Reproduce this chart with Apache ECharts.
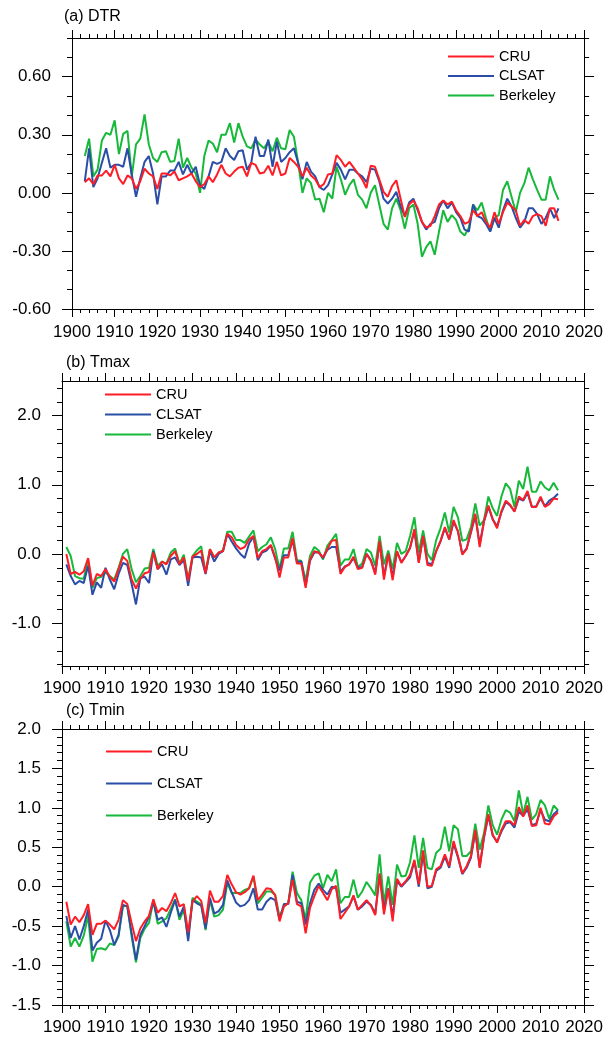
<!DOCTYPE html>
<html>
<head>
<meta charset="utf-8">
<title>DTR / Tmax / Tmin</title>
<script src="https://cdn.jsdelivr.net/npm/echarts@6/dist/echarts.min.js"></script>
<style>
  html, body { margin: 0; padding: 0; background: #fff; }
  #renderChart { width: 606px; height: 1044px; }
</style>
</head>
<body>
<div id="renderChart"></div>
<script>
// years
const dtrStart = 1903;
const tStart = 1901;

// (a) DTR, 1903-2014
const dtrCRU = [
  0.055, 0.075, 0.045, 0.09, 0.09, 0.115, 0.085, 0.145, 0.075, 0.045,
  0.09, 0.075, 0.02, 0.06, 0.125, 0.10, 0.085, 0.02, 0.10, 0.10,
  0.09, 0.11, 0.065, 0.075, 0.085, 0.10, 0.06, 0.03, 0.045, 0.085,
  0.055, 0.095, 0.145, 0.10, 0.085, 0.11, 0.13, 0.135, 0.085, 0.155,
  0.145, 0.10, 0.105, 0.14, 0.09, 0.16, 0.09, 0.10, 0.18, 0.16,
  0.135, 0.085, 0.13, 0.09, 0.07, 0.03, 0.045, 0.095, 0.10, 0.195,
  0.17, 0.135, 0.16, 0.13, 0.10, 0.07, 0.025, 0.14, 0.135, 0.07,
  0.005, -0.02, 0.035, 0.065, -0.03, -0.125, -0.06, -0.04, -0.08, -0.15,
  -0.18, -0.17, -0.12, -0.06, -0.04, -0.06, -0.045, -0.09, -0.12, -0.16,
  -0.15, -0.09, -0.12, -0.10, -0.15, -0.18, -0.10, -0.16, -0.10, -0.05,
  -0.07, -0.09, -0.17, -0.14, -0.16, -0.12, -0.11, -0.12, -0.17, -0.08,
  -0.08, -0.145
];
const dtrCLSAT = [
  0.06, 0.23, 0.03, 0.075, 0.155, 0.23, 0.13, 0.145, 0.145, 0.135,
  0.23, 0.095, -0.02, 0.075, 0.16, 0.19, 0.10, -0.06, 0.085, 0.085,
  0.115, 0.115, 0.16, 0.095, 0.145, 0.10, 0.135, 0.04, 0.02, 0.085,
  0.16, 0.15, 0.16, 0.23, 0.19, 0.17, 0.215, 0.22, 0.12, 0.155,
  0.29, 0.19, 0.19, 0.275, 0.135, 0.265, 0.16, 0.18, 0.21, 0.23,
  0.155, 0.07, 0.16, 0.11, 0.085, 0.03, 0.015, 0.04, 0.095, 0.155,
  0.12, 0.07, 0.12, 0.12, 0.10, 0.085, 0.055, 0.125, 0.12, 0.06,
  -0.03, -0.055, -0.03, 0.005, -0.07, -0.12, -0.05, -0.03, -0.09, -0.15,
  -0.19, -0.16, -0.15, -0.08, -0.04, -0.08, -0.05, -0.10, -0.13, -0.19,
  -0.20, -0.06, -0.12, -0.13, -0.16, -0.20, -0.13, -0.18, -0.09, -0.03,
  -0.07, -0.13, -0.18, -0.15, -0.08, -0.08, -0.11, -0.16, -0.13, -0.08,
  -0.13, -0.08
];
const dtrBerkeley = [
  0.19, 0.28, 0.085, 0.12, 0.27, 0.31, 0.30, 0.375, 0.20, 0.305,
  0.32, 0.085, 0.25, 0.28, 0.405, 0.25, 0.18, 0.16, 0.21, 0.215,
  0.16, 0.165, 0.28, 0.13, 0.18, 0.13, 0.10, 0.0, 0.19, 0.27,
  0.255, 0.21, 0.30, 0.30, 0.36, 0.26, 0.36, 0.29, 0.24, 0.23,
  0.275, 0.25, 0.23, 0.265, 0.215, 0.285, 0.23, 0.225, 0.325, 0.29,
  0.155, 0.0, 0.075, 0.05, -0.035, -0.03, -0.10, 0.0, -0.03, 0.135,
  0.07, -0.01, 0.04, 0.07, -0.01, -0.035, -0.08, 0.0, 0.04, -0.06,
  -0.16, -0.19, -0.08, -0.03, -0.09, -0.185, -0.08, -0.06, -0.16, -0.33,
  -0.28, -0.25, -0.32, -0.20, -0.09, -0.15, -0.115, -0.14, -0.20, -0.22,
  -0.18, -0.06, -0.09, -0.05, -0.13, -0.20, -0.13, -0.115, 0.015, 0.06,
  -0.02, -0.10, 0.0, 0.05, 0.13, 0.07, 0.015, -0.035, -0.035, 0.085,
  0.015, -0.035
];

// (b) Tmax, 1901-2014
const tmaxCRU = [
  0.0, -0.29, -0.26, -0.30, -0.25, -0.06, -0.46, -0.29, -0.32, -0.22,
  -0.33, -0.40, -0.22, -0.04, -0.10, -0.37, -0.50, -0.36, -0.28, -0.26,
  0.02, -0.22, -0.11, -0.15, -0.03, 0.04, -0.15, -0.05, -0.39, -0.04,
  0.0, 0.05, -0.28, 0.07, -0.05, 0.02, 0.04, 0.29, 0.24, 0.13,
  0.07, 0.10, 0.21, 0.26, -0.06, 0.04, 0.07, 0.13, -0.05, -0.34,
  -0.05, -0.05, 0.23, -0.14, -0.14, -0.49, -0.08, 0.04, 0.02, -0.05,
  0.07, 0.19, 0.20, -0.29, -0.19, -0.15, -0.04, -0.22, -0.20, 0.0,
  -0.10, -0.30, 0.19, -0.37, 0.0, -0.38, 0.04, -0.13, -0.03, 0.09,
  0.36, -0.13, 0.26, -0.16, -0.17, 0.04, 0.19, 0.39, 0.21, 0.49,
  0.33, -0.01, 0.07, 0.33, 0.58, 0.10, 0.48, 0.70, 0.50, 0.37,
  0.62, 0.77, 0.71, 0.61, 0.83, 0.78, 0.91, 0.68, 0.68, 0.83,
  0.68, 0.72, 0.80, 0.79
];
const tmaxCLSAT = [
  -0.15, -0.32, -0.44, -0.39, -0.42, -0.17, -0.59, -0.41, -0.49, -0.20,
  -0.37, -0.51, -0.29, -0.13, -0.16, -0.43, -0.73, -0.35, -0.33, -0.42,
  0.04, -0.22, -0.15, -0.30, -0.08, -0.05, -0.16, -0.09, -0.46, -0.05,
  -0.04, -0.05, -0.29, 0.04, -0.11, 0.0, 0.04, 0.29, 0.18, 0.08,
  0.0, -0.06, 0.15, 0.25, -0.09, 0.02, 0.05, 0.12, -0.07, -0.24,
  -0.02, -0.02, 0.20, -0.12, -0.11, -0.46, -0.10, 0.02, 0.02, -0.06,
  0.06, 0.10, 0.10, -0.26, -0.18, -0.15, -0.06, -0.20, -0.19, 0.0,
  -0.09, -0.27, 0.16, -0.32, 0.0, -0.33, 0.03, -0.12, -0.03, 0.09,
  0.33, -0.12, 0.25, -0.13, -0.15, 0.04, 0.18, 0.37, 0.21, 0.46,
  0.33, 0.0, 0.08, 0.31, 0.55, 0.14, 0.47, 0.68, 0.50, 0.40,
  0.60, 0.75, 0.70, 0.62, 0.80, 0.77, 0.88, 0.68, 0.69, 0.80,
  0.69, 0.77, 0.81, 0.87
];
const tmaxBerkeley = [
  0.10, -0.03, -0.32, -0.35, -0.36, -0.08, -0.49, -0.35, -0.33, -0.27,
  -0.32, -0.37, -0.20, 0.0, 0.07, -0.22, -0.41, -0.32, -0.21, -0.20,
  0.07, -0.17, -0.11, -0.14, 0.02, 0.08, -0.14, -0.01, -0.37, -0.03,
  0.05, 0.11, -0.27, 0.07, -0.05, 0.02, 0.05, 0.32, 0.32, 0.20,
  0.20, 0.16, 0.25, 0.34, 0.04, 0.10, 0.14, 0.24, 0.07, -0.22,
  0.08, 0.08, 0.32, -0.09, -0.10, -0.39, -0.03, 0.10, 0.05, -0.08,
  0.12, 0.20, 0.29, -0.17, -0.08, -0.08, 0.07, -0.19, -0.14, 0.07,
  0.02, -0.17, 0.26, -0.15, 0.05, -0.22, 0.16, 0.0, 0.04, 0.26,
  0.53, 0.02, 0.34, 0.0, -0.09, 0.20, 0.37, 0.60, 0.31, 0.68,
  0.53, 0.19, 0.21, 0.39, 0.73, 0.41, 0.49, 0.83, 0.66, 0.55,
  0.83, 1.02, 0.94, 0.68, 1.06, 0.94, 1.26, 0.90, 0.90, 1.05,
  0.96, 0.92, 1.03, 0.92
];

// (c) Tmin, 1901-2014
const tminCRU = [
  -0.19, -0.48, -0.38, -0.45, -0.36, -0.22, -0.61, -0.47, -0.47, -0.43,
  -0.48, -0.54, -0.42, -0.17, -0.22, -0.46, -0.69, -0.53, -0.44, -0.37,
  -0.16, -0.33, -0.27, -0.31, -0.21, -0.08, -0.25, -0.22, -0.58, -0.19,
  -0.12, -0.18, -0.46, -0.05, -0.19, -0.19, -0.12, 0.15, 0.03, -0.07,
  -0.10, -0.07, -0.02, 0.14, -0.17, -0.10, -0.02, -0.03, -0.11, -0.44,
  -0.25, -0.21, 0.09, -0.22, -0.25, -0.59, -0.27, -0.12, 0.01, -0.08,
  -0.17, -0.03, 0.01, -0.41, -0.33, -0.25, -0.11, -0.29, -0.23, -0.17,
  -0.24, -0.36, 0.17, -0.35, -0.02, -0.44, 0.10, 0.01, 0.07, 0.15,
  0.34, 0.03, 0.46, 0.0, 0.01, 0.22, 0.26, 0.41, 0.26, 0.58,
  0.39, 0.17, 0.26, 0.39, 0.72, 0.24, 0.64, 0.92, 0.66, 0.56,
  0.72, 0.83, 0.83, 0.78, 1.01, 0.89, 1.03, 0.77, 0.78, 1.00,
  0.80, 0.79, 0.89, 0.94
];
const tminCLSAT = [
  -0.37, -0.65, -0.50, -0.67, -0.50, -0.29, -0.81, -0.71, -0.66, -0.43,
  -0.55, -0.74, -0.61, -0.23, -0.25, -0.59, -0.93, -0.61, -0.50, -0.38,
  -0.19, -0.42, -0.39, -0.51, -0.33, -0.17, -0.38, -0.25, -0.69, -0.17,
  -0.21, -0.24, -0.53, -0.14, -0.34, -0.31, -0.23, 0.08, -0.07, -0.20,
  -0.25, -0.23, -0.17, -0.02, -0.29, -0.29, -0.19, -0.14, -0.17, -0.42,
  -0.22, -0.22, 0.15, -0.19, -0.21, -0.48, -0.21, -0.04, 0.04, -0.04,
  -0.10, 0.0, -0.02, -0.33, -0.29, -0.25, -0.12, -0.29, -0.25, -0.19,
  -0.23, -0.34, 0.15, -0.29, -0.02, -0.38, 0.07, 0.0, 0.06, 0.12,
  0.32, 0.0, 0.42, -0.02, 0.0, 0.20, 0.24, 0.38, 0.24, 0.55,
  0.37, 0.16, 0.24, 0.37, 0.70, 0.25, 0.62, 0.90, 0.65, 0.57,
  0.70, 0.80, 0.82, 0.75, 0.95, 0.90, 0.98, 0.78, 0.80, 0.97,
  0.85, 0.83, 0.92, 0.97
];
const tminBerkeley = [
  -0.44, -0.76, -0.65, -0.76, -0.62, -0.37, -0.95, -0.79, -0.78, -0.80,
  -0.72, -0.74, -0.63, -0.25, -0.24, -0.63, -0.96, -0.65, -0.53, -0.46,
  -0.17, -0.47, -0.44, -0.40, -0.28, -0.16, -0.42, -0.29, -0.65, -0.14,
  -0.19, -0.22, -0.55, -0.17, -0.38, -0.36, -0.29, 0.05, -0.08, -0.08,
  -0.08, -0.04, -0.02, 0.13, -0.21, -0.14, -0.06, -0.06, -0.10, -0.38,
  -0.25, -0.21, 0.19, -0.08, -0.17, -0.42, 0.05, 0.14, 0.17, -0.02,
  0.15, 0.07, 0.22, -0.21, -0.13, -0.13, 0.09, -0.14, -0.06, 0.06,
  -0.02, -0.11, 0.41, -0.21, 0.13, -0.23, 0.28, 0.13, 0.14, 0.31,
  0.65, 0.24, 0.62, 0.24, 0.22, 0.43, 0.48, 0.76, 0.45, 0.78,
  0.73, 0.39, 0.39, 0.45, 0.80, 0.47, 0.68, 1.03, 0.78, 0.66,
  0.85, 0.97, 0.94, 0.83, 1.22, 0.92, 1.14, 0.85, 0.92, 1.10,
  1.03, 0.86, 1.03, 0.97
];

// tick labels
const xMajor = [1900, 1910, 1920, 1930, 1940, 1950, 1960, 1970, 1980, 1990, 2000, 2010, 2020];
const yMajorDTR = [-0.6, -0.3, 0, 0.3, 0.6];
const yMajorTmax = [-1, 0, 1, 2];
const yMajorTmin = [-1.5, -1, -0.5, 0, 0.5, 1, 1.5, 2];

const names = ['CRU', 'CLSAT', 'Berkeley'];
const colors = { CRU: '#ff1d25', CLSAT: '#2a4ea6', Berkeley: '#17b93a' };
const FONT = '"Liberation Sans", Arial, Helvetica, sans-serif';

function steps(a, b, div) {
  const out = [];
  for (let k = a; k <= b; k++) out.push(k / div);
  return out;
}
const xMinor = steps(950, 1010, 0.5);

const panels = [
  {
    title: '(a) DTR', titleTop: 9, titleLeft: 64,
    grid: { left: 72, top: 38, width: 514, height: 271 },
    yMin: -0.6, yMax: 0.8, yMajor: yMajorDTR, yMinor: steps(-6, 8, 10), digits: 2,
    start: dtrStart, data: { CRU: dtrCRU, CLSAT: dtrCLSAT, Berkeley: dtrBerkeley },
    legend: { left: 448, top: 49, itemGap: 4.5 }, xMargin: 15
  },
  {
    title: '(b) Tmax', titleTop: 355, titleLeft: 66,
    grid: { left: 62, top: 381, width: 523, height: 285 },
    yMin: -1.62, yMax: 2.5, yMajor: yMajorTmax, yMinor: steps(-8, 12, 5), digits: 1,
    start: tStart, data: { CRU: tmaxCRU, CLSAT: tmaxCLSAT, Berkeley: tmaxBerkeley },
    legend: { left: 105, top: 387, itemGap: 5 }, xMargin: 14
  },
  {
    title: '(c) Tmin', titleTop: 703, titleLeft: 66,
    grid: { left: 62, top: 729, width: 523, height: 276 },
    yMin: -1.5, yMax: 2.0, yMajor: yMajorTmin, yMinor: steps(-15, 20, 10), digits: 1,
    start: tStart, data: { CRU: tminCRU, CLSAT: tminCLSAT, Berkeley: tminBerkeley },
    legend: { left: 106, top: 744, itemGap: 17 }, xMargin: 14
  }
];

const black = { color: '#000', width: 1 };

function tickAxis(base, position, values, len, withLine, label) {
  return Object.assign({}, base, {
    position: position,
    splitLine: { show: false },
    axisLine: { show: withLine, onZero: false, lineStyle: black },
    axisTick: { show: true, inside: false, length: len, customValues: values, lineStyle: black },
    axisLabel: label || { show: false, customValues: values }
  });
}

const option = {
  animation: false,
  backgroundColor: '#fff',
  title: [], grid: [], xAxis: [], yAxis: [], legend: [], series: []
};

panels.forEach((p, i) => {
  option.title.push({
    text: p.title, left: p.titleLeft, top: p.titleTop, padding: 0,
    textStyle: { fontSize: 16, fontWeight: 'normal', color: '#000', fontFamily: FONT }
  });
  option.grid.push(Object.assign({ containLabel: false }, p.grid));

  const xb = { type: 'value', gridIndex: i, min: 1900, max: 2020 };
  option.xAxis.push(
    tickAxis(xb, 'bottom', xMajor, 8, true, {
      show: true, customValues: xMajor, margin: p.xMargin, fontSize: 17, color: '#000', fontFamily: FONT,
      formatter: v => String(Math.round(v))
    }),
    tickAxis(xb, 'bottom', xMinor, 4, false),
    tickAxis(xb, 'top', xMajor, 8, true),
    tickAxis(xb, 'top', xMinor, 4, false)
  );

  const yb = { type: 'value', gridIndex: i, min: p.yMin, max: p.yMax };
  option.yAxis.push(
    tickAxis(yb, 'left', p.yMajor, 10, true, {
      show: true, customValues: p.yMajor, margin: 21, fontSize: 17, color: '#000', fontFamily: FONT,
      formatter: v => Number(v).toFixed(p.digits)
    }),
    tickAxis(yb, 'left', p.yMinor, 5, false),
    tickAxis(yb, 'right', p.yMajor, 10, true),
    tickAxis(yb, 'right', p.yMinor, 5, false)
  );

  option.legend.push({
    data: names, orient: 'vertical', left: p.legend.left, top: p.legend.top,
    itemGap: p.legend.itemGap, itemWidth: 46, itemHeight: 2, icon: 'rect',
    padding: 0, selectedMode: false,
    textStyle: { fontSize: 14.5, color: '#000', fontFamily: FONT }
  });

  // draw Berkeley first so CRU sits on top
  ['Berkeley', 'CLSAT', 'CRU'].forEach(name => {
    const vals = p.data[name];
    option.series.push({
      type: 'line', name: name,
      xAxisIndex: i * 4, yAxisIndex: i * 4,
      data: vals.map((v, k) => [p.start + k, v]),
      symbol: 'none', smooth: false,
      color: colors[name],
      lineStyle: { width: 2, color: colors[name] },
      emphasis: { disabled: true }
    });
  });
});

const myChart = echarts.init(document.getElementById('renderChart'));
myChart.setOption(option);
</script>
</body>
</html>
